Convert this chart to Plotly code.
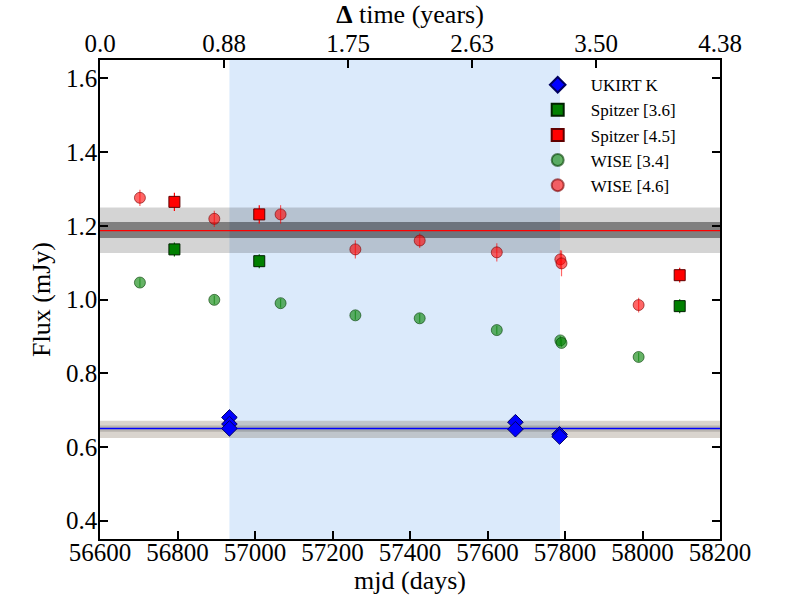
import plotly.graph_objects as go

# ---------------- data ----------------
ukirt_mjd = [56934, 56934, 56934, 57672, 57672, 57786, 57786]
ukirt_flux = [0.680, 0.662, 0.650, 0.667, 0.648, 0.634, 0.628]
ukirt_err = [0.006, 0.006, 0.006, 0.006, 0.006, 0.006, 0.006]

spitzer36_mjd = [56792, 57011, 58096]
spitzer36_flux = [1.136, 1.104, 0.982]
spitzer36_err = [0.019, 0.019, 0.019]

spitzer45_mjd = [56792, 57011, 58096]
spitzer45_flux = [1.265, 1.231, 1.066]
spitzer45_err = [0.025, 0.025, 0.020]

wise_mjd = [56703, 56895, 57066, 57259, 57425, 57624, 57788, 57791, 57990]
wise34_flux = [1.046, 0.999, 0.990, 0.957, 0.949, 0.917, 0.889, 0.882, 0.844]
wise34_err = [0.012, 0.012, 0.012, 0.012, 0.012, 0.012, 0.012, 0.012, 0.012]
wise46_flux = [1.276, 1.219, 1.231, 1.136, 1.160, 1.128, 1.109, 1.098, 0.985]
wise46_err = [0.022, 0.022, 0.025, 0.025, 0.020, 0.025, 0.025, 0.035, 0.020]

# mean levels and uncertainty bands
red_mean = 1.187
red_inner = [1.167, 1.210]
red_outer = [1.126, 1.250]
blue_mean = 0.650
blue_inner = [0.641, 0.658]
blue_outer = [0.624, 0.671]

# highlighted interval (mjd)
highlight = [56934, 57787]

# axes
x_range = [56600, 58200]
y_range = [0.35, 1.65]
x_ticks = [56600, 56800, 57000, 57200, 57400, 57600, 57800, 58000, 58200]
y_ticks = [0.4, 0.6, 0.8, 1.0, 1.2, 1.4, 1.6]
top_tick_days = [0, 320, 640, 960, 1280, 1600]
top_tick_labels = ["0.0", "0.88", "1.75", "2.63", "3.50", "4.38"]

FONT = "Liberation Serif"

fig = go.Figure()

def eb(arr, color):
    return dict(type="data", array=arr, visible=True, color=color, thickness=1.2, width=0)

fig.add_trace(go.Scatter(
    x=ukirt_mjd, y=ukirt_flux, mode="markers", name="UKIRT K",
    error_y=eb(ukirt_err, "blue"),
    marker=dict(symbol="diamond", size=12, color="blue", line=dict(color="#000060", width=1))))
fig.add_trace(go.Scatter(
    x=spitzer36_mjd, y=spitzer36_flux, mode="markers", name="Spitzer [3.6]",
    error_y=eb(spitzer36_err, "green"),
    marker=dict(symbol="square", size=11, color="green", line=dict(color="#002000", width=1))))
fig.add_trace(go.Scatter(
    x=spitzer45_mjd, y=spitzer45_flux, mode="markers", name="Spitzer [4.5]",
    error_y=eb(spitzer45_err, "red"),
    marker=dict(symbol="square", size=11, color="red", line=dict(color="#600000", width=1))))
fig.add_trace(go.Scatter(
    x=wise_mjd, y=wise34_flux, mode="markers", name="WISE [3.4]",
    error_y=eb(wise34_err, "rgba(0,128,0,0.6)"),
    marker=dict(symbol="circle", size=11, color="rgba(0,128,0,0.6)",
                line=dict(color="rgba(0,60,0,0.6)", width=1))))
fig.add_trace(go.Scatter(
    x=wise_mjd, y=wise46_flux, mode="markers", name="WISE [4.6]",
    error_y=eb(wise46_err, "rgba(255,0,0,0.6)"),
    marker=dict(symbol="circle", size=11, color="rgba(255,0,0,0.6)",
                line=dict(color="rgba(120,0,0,0.6)", width=1))))

# invisible trace to activate the top axis
fig.add_trace(go.Scatter(x=x_range, y=[None, None], xaxis="x2", mode="markers",
                         showlegend=False, hoverinfo="skip"))

# shapes: highlight region, bands, mean lines
fig.add_shape(type="rect", xref="x", yref="paper", x0=highlight[0], x1=highlight[1],
              y0=0, y1=1, fillcolor="#dbeafb", line=dict(width=0), layer="below")
fig.add_shape(type="rect", xref="paper", yref="y", x0=0, x1=1, y0=red_outer[0], y1=red_outer[1],
              fillcolor="rgba(0,0,0,0.17)", line=dict(width=0), layer="below")
fig.add_shape(type="rect", xref="paper", yref="y", x0=0, x1=1, y0=red_inner[0], y1=red_inner[1],
              fillcolor="rgba(0,0,0,0.4)", line=dict(width=0), layer="below")
fig.add_shape(type="rect", xref="paper", yref="y", x0=0, x1=1, y0=blue_outer[0], y1=blue_outer[1],
              fillcolor="rgba(120,100,80,0.28)", line=dict(width=0), layer="below")
fig.add_shape(type="rect", xref="paper", yref="y", x0=0, x1=1, y0=blue_inner[0], y1=blue_inner[1],
              fillcolor="rgba(0,0,0,0.15)", line=dict(width=0), layer="below")
fig.add_shape(type="line", xref="paper", yref="y", x0=0, x1=1, y0=red_mean, y1=red_mean,
              line=dict(color="red", width=1.2), layer="below")
fig.add_shape(type="line", xref="paper", yref="y", x0=0, x1=1, y0=blue_mean, y1=blue_mean,
              line=dict(color="blue", width=1.5), layer="below")

axis_common = dict(showline=True, linecolor="black", linewidth=1.5, ticks="inside",
                   ticklen=8, tickwidth=1.5, tickcolor="black", showgrid=False, zeroline=False,
                   automargin=False,
                   tickfont=dict(family=FONT, size=25, color="black"))

fig.update_layout(
    width=800, height=600,
    margin=dict(l=100, r=80, t=60, b=61),
    paper_bgcolor="white", plot_bgcolor="white",
    font=dict(family=FONT, size=25, color="black"),
    xaxis=dict(range=x_range, tickvals=x_ticks, ticktext=[str(v) for v in x_ticks],
               ticklabelstandoff=-10,
               title=dict(text="mjd (days)", font=dict(family=FONT, size=26), standoff=0),
               **axis_common),
    xaxis2=dict(range=x_range, overlaying="x", side="top", anchor="y",
                tickvals=[x_range[0] + d for d in top_tick_days], ticktext=top_tick_labels,
                ticklabelstandoff=-4,
                title=dict(text="<b>Δ</b> time (years)", font=dict(family=FONT, size=26), standoff=0),
                **axis_common),
    yaxis=dict(range=y_range, tickvals=y_ticks, ticktext=[f"{v:.1f}" for v in y_ticks],
               mirror="ticks", ticklabelstandoff=-4,
               title=dict(text="Flux (mJy)", font=dict(family=FONT, size=26), standoff=8),
               **axis_common),
    legend=dict(x=0.685, y=0.985, xanchor="left", yanchor="top",
                bgcolor="rgba(0,0,0,0)", borderwidth=0,
                font=dict(family=FONT, size=17, color="black"),
                tracegroupgap=0, itemsizing="constant", itemwidth=56),
    showlegend=True,
)

fig.write_html("out.html", post_script="document.body.style.margin='0px';",
               config={"displayModeBar": False})
